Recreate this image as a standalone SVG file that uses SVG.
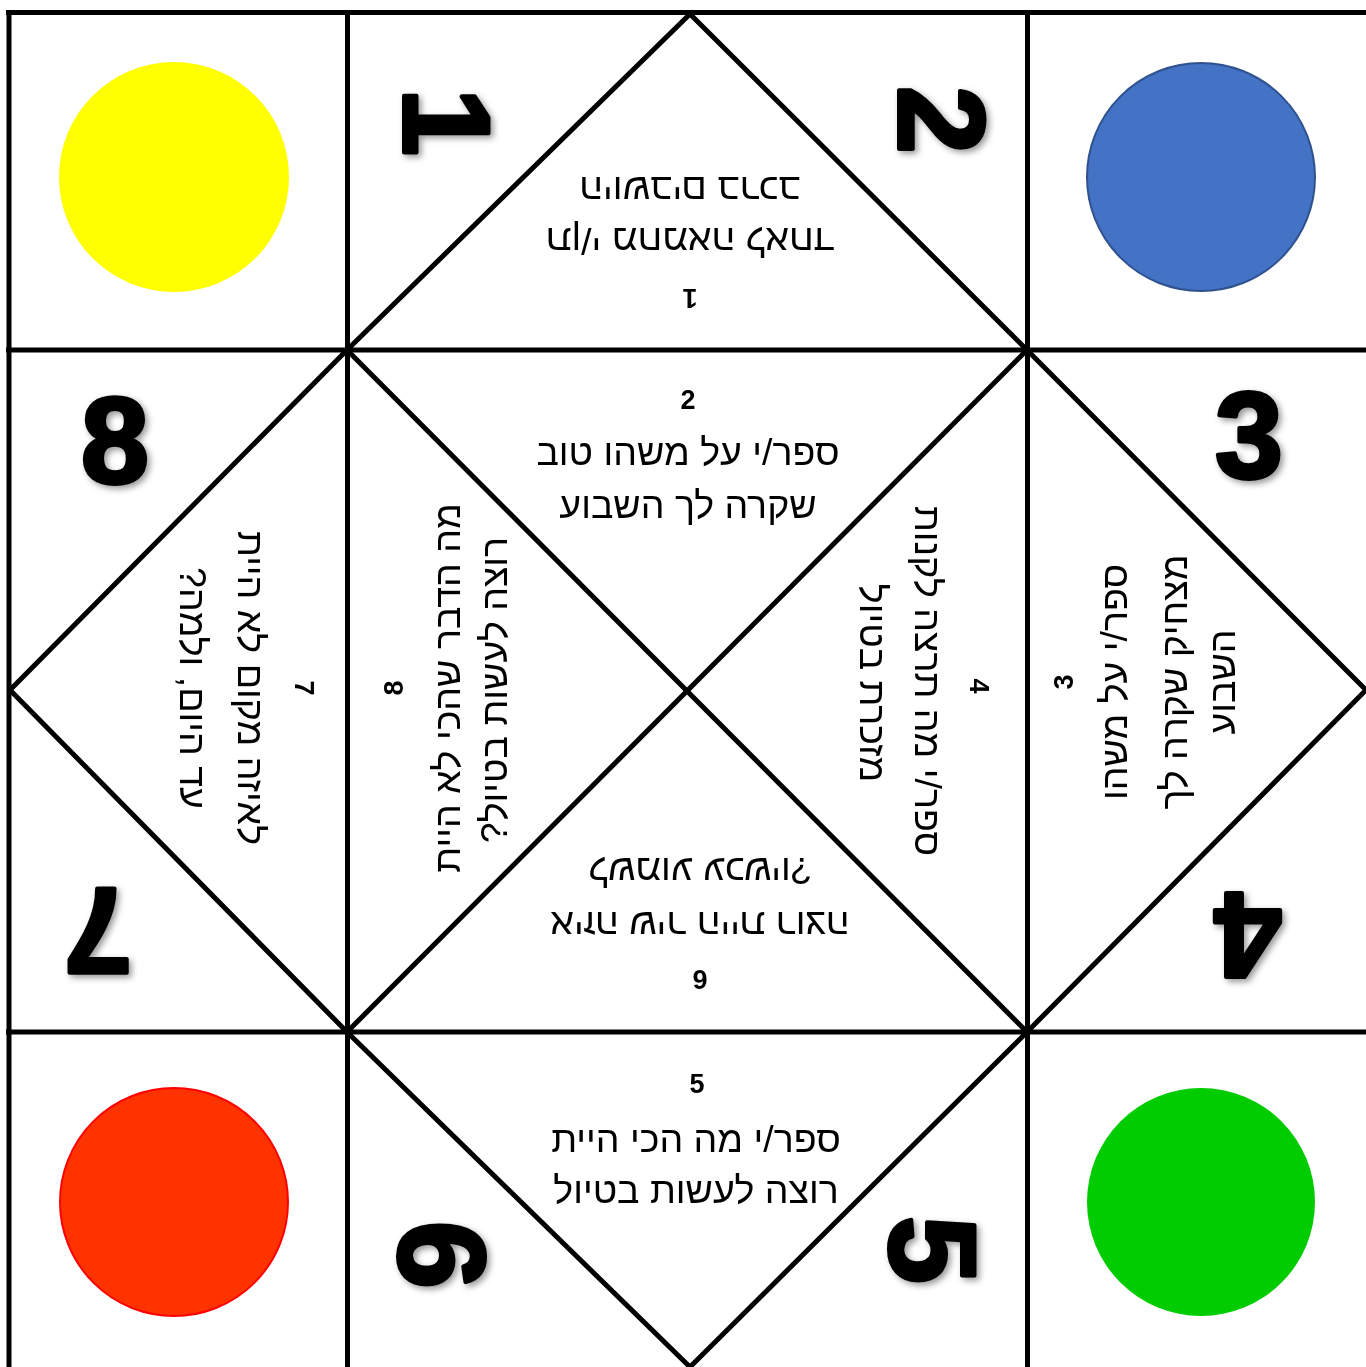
<svg xmlns="http://www.w3.org/2000/svg" width="1366" height="1367" viewBox="0 0 1366 1367">
<defs>
<style>
.ln{stroke:#000;stroke-width:5;fill:none;stroke-linejoin:miter}
.t{font-family:"Liberation Sans","DejaVu Sans",sans-serif;font-size:37.5px;text-anchor:middle;direction:rtl;fill:#000}
.n{font-family:"Liberation Sans","DejaVu Sans",sans-serif;font-size:27px;font-weight:bold;text-anchor:middle;fill:#000}
.big{font-family:"Liberation Sans","DejaVu Sans",sans-serif;font-size:122px;font-weight:bold;text-anchor:middle;fill:#000;stroke:#000;stroke-width:4;stroke-linejoin:round}
</style>
<filter id="sh" x="-30%" y="-30%" width="160%" height="160%"><feDropShadow dx="3" dy="3" stdDeviation="3" flood-color="#000" flood-opacity="0.4"/></filter>
</defs>
<rect width="1366" height="1367" fill="#fff"/>

<g id="corner-yellow"><circle cx="174" cy="177" r="115" fill="#FFFF00"/></g>
<g id="corner-blue"><circle cx="1201" cy="177" r="114" fill="#4472C4" stroke="#2F528F" stroke-width="2"/></g>
<g id="corner-red"><circle cx="174" cy="1202" r="114" fill="#FF3300" stroke="#FF0000" stroke-width="2"/></g>
<g id="corner-green"><circle cx="1201" cy="1202" r="114" fill="#00CC00"/></g>

<g id="connectors" class="ln">
<line x1="6" y1="12.5" x2="1366" y2="12.5"/>
<line x1="9" y1="10" x2="9" y2="1367"/>
<line x1="347.5" y1="12" x2="347.5" y2="1367"/>
<line x1="1027.5" y1="12" x2="1027.5" y2="1367"/>
<line x1="6" y1="350" x2="1366" y2="350"/>
<line x1="6" y1="1032" x2="1366" y2="1032"/>
<polyline points="10,690 347,350 690,14 1027,350 1366,690 1027,1032 690,1367 347,1032 10,690"/>
<line x1="347" y1="350" x2="1027" y2="1032"/>
<line x1="1027" y1="350" x2="347" y2="1032"/>
</g>

<g id="big-numbers" class="big" filter="url(#sh)">
<text transform="translate(447,122) rotate(90)" x="0" y="43">1</text>
<text transform="translate(942,120) rotate(90)" x="0" y="43">2</text>
<text transform="translate(1249,435)" x="0" y="43">3</text>
<text transform="translate(1248,936) rotate(180)" x="0" y="43">4</text>
<text transform="translate(933,1250) rotate(90)" x="0" y="43">5</text>
<text transform="translate(442,1255) rotate(90)" x="0" y="43">6</text>
<text transform="translate(98,931) rotate(180)" x="0" y="43">7</text>
<text transform="translate(115,440)" x="0" y="43">8</text>
</g>

<g id="flap-1" transform="rotate(180 690 240)">
<text class="n" x="690" y="191">1</text>
<text class="t" x="690" y="252">תן/י מחמאה לאחד</text>
<text class="t" x="690" y="303">היושבים ברכב</text>
</g>

<g id="flap-2">
<text class="n" x="688" y="409">2</text>
<text class="t" x="688" y="465">ספר/י על משהו טוב</text>
<text class="t" x="688" y="518">שקרה לך השבוע</text>
</g>

<g id="flap-3" transform="translate(1063,682) rotate(-90)">
<text class="n" x="0" y="9.5">3</text>
<text class="t" x="0" y="64">ספר/י על משהו</text>
<text class="t" x="0" y="124">מצחיק שקרה לך</text>
<text class="t" x="0" y="172">השבוע</text>
</g>

<g id="flap-4" transform="translate(980,686) rotate(90)">
<text class="n" x="0" y="9.5">4</text>
<text class="t" x="-5" y="65">ספר/י מה תרצה לקנות</text>
<text class="t" x="-3" y="120">מזכרת בטיול</text>
</g>

<g id="flap-5">
<text class="n" x="697" y="1093">5</text>
<text class="t" x="696" y="1152">ספר/י מה הכי היית</text>
<text class="t" x="696" y="1203">רוצה לעשות בטיול</text>
</g>

<g id="flap-6" transform="rotate(180 700 920)">
<text class="n" x="700" y="870">6</text>
<text class="t" x="700" y="928">איזה שיר היית רוצה</text>
<text class="t" x="700" y="982">לשמוע עכשיו?</text>
</g>

<g id="flap-7" transform="translate(305,688) rotate(90)">
<text class="n" x="0" y="9.5">7</text>
<text class="t" x="0" y="67">לאיזה מקום לא היית</text>
<text class="t" x="0" y="125">עד היום, ולמה?</text>
</g>

<g id="flap-8" transform="translate(440,688) rotate(-90)">
<text class="n" x="0" y="-37.5">8</text>
<text class="t" x="0" y="20">מה הדבר שהכי לא היית</text>
<text class="t" x="-2" y="67">רוצה לעשות בטיול?</text>
</g>
</svg>
